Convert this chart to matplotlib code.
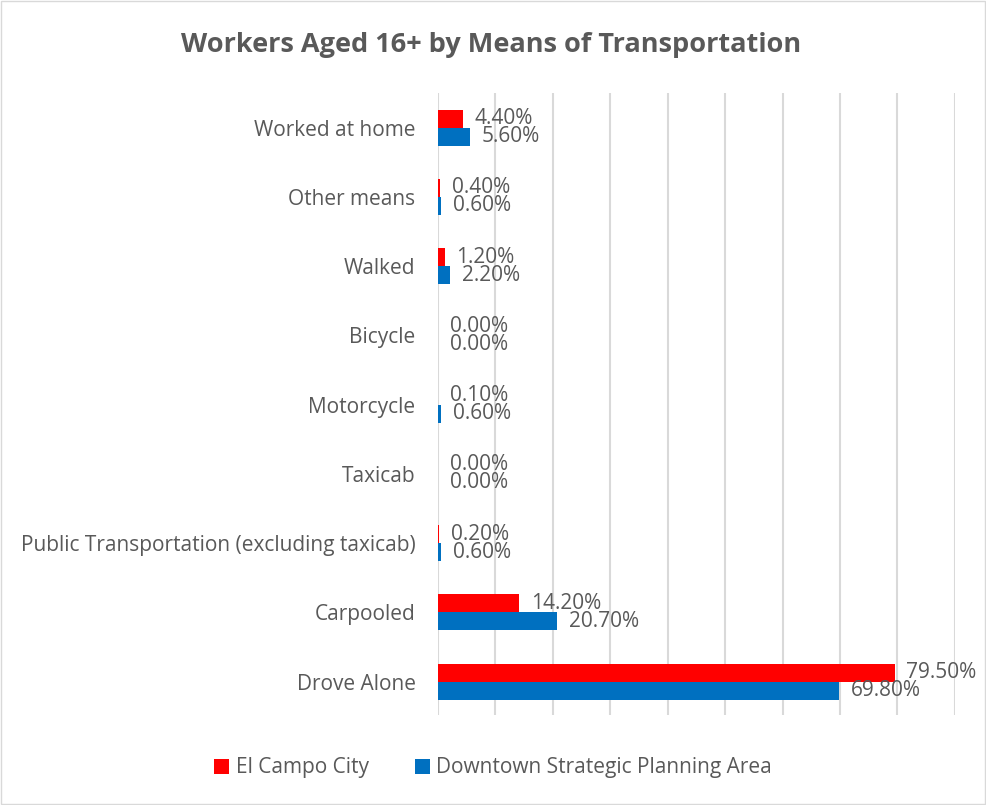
import matplotlib.pyplot as plt
from matplotlib.patches import Rectangle
import numpy as np

categories = ['Drove Alone', 'Carpooled', 'Public Transportation (excluding taxicab)',
              'Taxicab', 'Motorcycle', 'Bicycle', 'Walked', 'Other means', 'Worked at home']
el_campo = [79.5, 14.2, 0.2, 0.0, 0.1, 0.0, 1.2, 0.4, 4.4]
downtown = [69.8, 20.7, 0.6, 0.0, 0.6, 0.0, 2.2, 0.6, 5.6]
series_names = ['El Campo City', 'Downtown Strategic Planning Area']

red = '#ff0000'
blue = '#0070c0'
txt = '#595959'

plt.rcParams['font.family'] = ['Open Sans', 'DejaVu Sans']

fig = plt.figure(figsize=(9.86, 8.05), dpi=100)
fig.patches.append(Rectangle((0.001, 0.001), 0.998, 0.998, transform=fig.transFigure,
                             fill=False, edgecolor='#d9d9d9', linewidth=1))
ax = fig.add_axes([0.444, 0.112, 0.5245, 0.7725])

y = np.arange(len(categories))
h = 0.26
ax.barh(y + h / 2, el_campo, height=h, color=red, label=series_names[0], zorder=3)
ax.barh(y - h / 2, downtown, height=h, color=blue, label=series_names[1], zorder=3)

for yi, a, b in zip(y, el_campo, downtown):
    ax.annotate(f'{a:.2f}%', xy=(a, yi + h / 2), xytext=(8.5, 0), textcoords='offset points',
                va='center', ha='left', fontsize=15, color=txt)
    ax.annotate(f'{b:.2f}%', xy=(b, yi - h / 2), xytext=(8.5, 0), textcoords='offset points',
                va='center', ha='left', fontsize=15, color=txt)

ax.set_xlim(0, 90)
ax.set_ylim(-0.48, 8.5)
ax.set_xticks(np.arange(0, 91, 10))
ax.set_xticklabels([])
ax.tick_params(axis='x', length=0)
ax.tick_params(axis='y', length=0, labelsize=15, labelcolor=txt, pad=16)
ax.set_yticks(y)
ax.set_yticklabels(categories)
ax.grid(axis='x', color='#d9d9d9', linewidth=1.5, zorder=0)
for s in ax.spines.values():
    s.set_visible(False)

fig.text(0.498, 0.944, 'Workers Aged 16+ by Means of Transportation', ha='center', va='center',
         fontsize=19.5, fontweight='bold', color=txt)

leg = fig.legend(loc='center', bbox_to_anchor=(0.5, 0.046), ncol=2, frameon=False,
                 fontsize=15, labelcolor=txt, handlelength=0.75, handleheight=0.75,
                 handletextpad=0.3, columnspacing=2.2)

fig.savefig('out.png', dpi=100)
